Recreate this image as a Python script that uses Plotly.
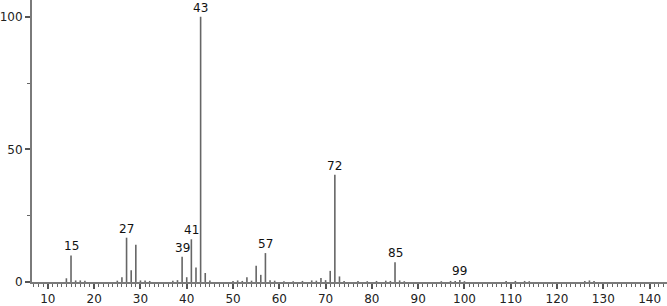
import plotly.graph_objects as go

# m/z values and relative intensities (%)
mz = [14, 15, 16, 17, 18, 25, 26, 27, 28, 29, 30, 31, 32, 37, 38, 39, 40, 41, 42, 43,
      44, 45, 50, 51, 52, 53, 54, 55, 56, 57, 58, 59, 61, 63, 65, 67, 68, 69, 70, 71,
      72, 73, 74, 77, 79, 81, 83, 84, 85, 86, 87, 95, 97, 98, 99, 100, 109, 111, 113,
      114, 126, 127, 128]
intensity = [1.4, 10.0, 0.6, 0.6, 0.5, 0.5, 1.8, 16.7, 4.4, 14.0, 0.6, 0.6, 0.4, 0.5, 0.7, 9.5, 1.8, 16.1, 5.5, 100.0,
             3.4, 0.6, 0.4, 0.6, 0.4, 1.8, 0.5, 6.1, 2.7, 10.9, 0.7, 0.5, 0.3, 0.3, 0.4, 0.6, 0.5, 1.5, 0.7, 4.2,
             40.4, 2.1, 0.4, 0.4, 0.3, 0.4, 0.5, 0.4, 7.4, 0.6, 0.3, 0.3, 0.4, 0.4, 0.8, 0.3, 0.4, 0.4, 0.4,
             0.3, 0.4, 0.6, 0.4]
labeled = [15, 27, 39, 41, 43, 57, 72, 85, 99]

x_range = [6.57, 143.76]
y_range = [0, 106.3]
x_ticks = list(range(10, 150, 10))
y_ticks = [0, 50, 100]

xs, ys = [], []
for m, v in zip(mz, intensity):
    xs += [m, m, None]
    ys += [0, v, None]

fig = go.Figure()
fig.add_trace(go.Scatter(x=xs, y=ys, mode="lines",
                         line=dict(color="#666666", width=1.6),
                         hoverinfo="skip", showlegend=False))

for m, v in zip(mz, intensity):
    if m in labeled:
        fig.add_annotation(x=m, y=v, text=str(m), showarrow=False,
                           yanchor="bottom", xanchor="center", yshift=0,
                           font=dict(size=12, color="#111111", family="DejaVu Sans"))

fig.update_layout(
    width=667, height=306,
    margin=dict(l=27, r=0, t=0, b=22),
    paper_bgcolor="white", plot_bgcolor="white",
    showlegend=False,
    font=dict(family="DejaVu Sans", size=12, color="#222222"),
)
fig.update_xaxes(
    range=x_range, tickmode="array", tickvals=x_ticks,
    ticktext=[str(t) for t in x_ticks],
    showgrid=False, zeroline=False,
    showline=True, linecolor="#7a7a7a", linewidth=2,
    ticks="outside", ticklen=5, tickwidth=1.5, tickcolor="#555555",
    minor=dict(dtick=1, tick0=0, ticks="outside", ticklen=3, tickwidth=1, tickcolor="#666666", showgrid=False),
    tickfont=dict(size=12, color="#222222", family="DejaVu Sans"),
)
fig.update_yaxes(
    range=y_range, tickmode="array", tickvals=y_ticks,
    ticktext=[str(t) for t in y_ticks],
    showgrid=False, zeroline=False,
    showline=True, linecolor="#7a7a7a", linewidth=2,
    ticks="outside", ticklen=5, tickwidth=1.5, tickcolor="#555555",
    minor=dict(dtick=25, tick0=0, ticks="outside", ticklen=3, tickwidth=1, tickcolor="#666666", showgrid=False),
    tickfont=dict(size=12, color="#222222", family="DejaVu Sans"),
)

fig.write_html("out.html")
